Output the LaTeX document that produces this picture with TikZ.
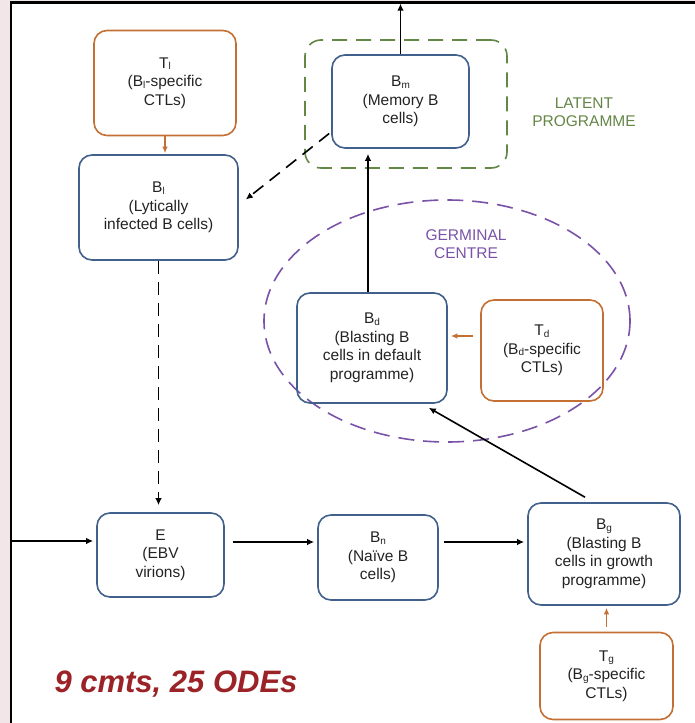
\documentclass[tikz,border=0pt]{standalone}
\usepackage{fontspec}
\setmainfont{Liberation Sans}
\usetikzlibrary{shapes.geometric,arrows.meta,calc}
\definecolor{boxblue}{RGB}{65,96,140}
\definecolor{boxorange}{RGB}{196,112,52}
\definecolor{latgreen}{RGB}{100,134,70}
\definecolor{gcpurple}{RGB}{122,82,168}
\definecolor{odered}{RGB}{155,35,40}
\definecolor{pinkbg}{RGB}{242,230,232}
\definecolor{txt}{RGB}{35,35,35}
\newcommand{\sbs}[1]{\raisebox{-1.6pt}{\fontsize{10}{10}\selectfont #1}}
\tikzset{
  cell/.style={draw=boxblue, line width=1.6pt, rounded corners=13pt, align=center,
    inner sep=0pt, text=txt, font=\fontsize{15.5}{18.5}\selectfont},
  ctl/.style={cell, draw=boxorange},
  arr/.style={line width=1.6pt, -{Latex[length=7pt,width=6.5pt]}},
  dasharr/.style={arr, dash pattern=on 13pt off 8pt},
  oarr/.style={line width=1.6pt, draw=boxorange, -{Latex[length=6.5pt,width=5.5pt]}, boxorange},
  regionlabel/.style={align=center, font=\fontsize{15.5}{18.5}\selectfont}
}
\begin{document}
\begin{tikzpicture}[x=1pt,y=-1pt]
\useasboundingbox (0,0) rectangle (695,723);
\fill[white] (0,0) rectangle (695,723);
\fill[pinkbg] (0,0) rectangle (10,723);
\fill[pinkbg] (10,0) rectangle (695,1.5);
\draw[line width=2.4pt] (11,723) -- (11,2.6) -- (695,2.6);

% region outlines
\node[draw=latgreen, line width=1.6pt, dash pattern=on 15pt off 9pt, rounded corners=16pt,
  minimum width=202pt, minimum height=128pt, inner sep=0pt] (lat) at (406,104) {};
\node[draw=gcpurple, line width=1.6pt, dash pattern=on 16pt off 9pt, ellipse,
  minimum width=366pt, minimum height=242pt, inner sep=0pt] (gc) at (447,321) {};
\node[regionlabel, text=latgreen] (latlbl) at (584,112) {LATENT\\PROGRAMME};
\node[regionlabel, text=gcpurple] (gclbl) at (466,244) {GERMINAL\\CENTRE};

% cells
\node[ctl, minimum width=142pt, minimum height=105pt] (Tl) at (165,83) {T\sbs{l}\\(B\sbs{l}-specific\\CTLs)};
\node[cell, minimum width=137pt, minimum height=93pt] (Bm) at (400.5,101.5) {B\sbs{m}\\(Memory B\\cells)};
\node[cell, minimum width=159pt, minimum height=105pt] (Bl) at (158.5,207.5) {B\sbs{l}\\(Lytically\\infected B cells)};
\node[cell, minimum width=150pt, minimum height=110pt] (Bd) at (372,348) {B\sbs{d}\\(Blasting B\\cells in default\\programme)};
\node[ctl, minimum width=122pt, minimum height=101pt] (Td) at (542,350.5) {T\sbs{d}\\(B\sbs{d}-specific\\CTLs)};
\node[cell, minimum width=127pt, minimum height=84pt] (E) at (160.5,555) {E\\(EBV\\virions)};
\node[cell, minimum width=120pt, minimum height=85pt] (Bn) at (378,557.5) {B\sbs{n}\\(Naïve B\\cells)};
\node[cell, minimum width=152pt, minimum height=102pt] (Bg) at (604,554) {B\sbs{g}\\(Blasting B\\cells in growth\\programme)};
\node[ctl, minimum width=133pt, minimum height=87pt] (Tg) at (606.5,676) {T\sbs{g}\\(B\sbs{g}-specific\\CTLs)};

\node[anchor=base west, text=odered, font=\fontsize{31}{31}\selectfont\bfseries\itshape] (odes) at (51,692) {9 cmts, 25 ODEs};

% connectors
\coordinate (topc) at (400.5,3.6);
\draw[arr] (Bm.north) -- (topc);
\draw[oarr, shorten >=1pt] (Tl.south) -- (Tl.south |- Bl.north);
\draw[dasharr] ($(Bm.west)+(-2,32)$) -- ($(Bl.east)+(7,-8)$);
\draw[dasharr, shorten >=7pt] (Bl.south) -- (Bl.south |- E.north);
\coordinate (lin) at (12,541);
\coordinate (row) at (0,542);
\draw[arr, shorten >=3pt] (lin) -- (lin -| E.west);
\draw[arr] ($(E.east |- row)+(8,0)$) -- ($(Bn.west |- row)+(-3,0)$);
\draw[arr] ($(Bn.east |- row)+(5,0)$) -- ($(Bg.west |- row)+(-3,0)$);
\draw[arr] ($(Bg.north)+(-19,-5)$) -- ($(Bd.south east)+(-19,4)$);
\coordinate (bdtop) at ($(Bd.north)+(-4,0)$);
\draw[arr, shorten >=5pt] (bdtop) -- (bdtop |- Bm.south);
\coordinate (tdrow) at (0,336);
\draw[oarr] ($(Td.west |- tdrow)+(-7,0)$) -- ($(Bd.east |- tdrow)+(3,0)$);
\draw[oarr, shorten <=5pt, shorten >=2pt] (Tg.north) -- (Tg.north |- Bg.south);
\end{tikzpicture}
\end{document}
